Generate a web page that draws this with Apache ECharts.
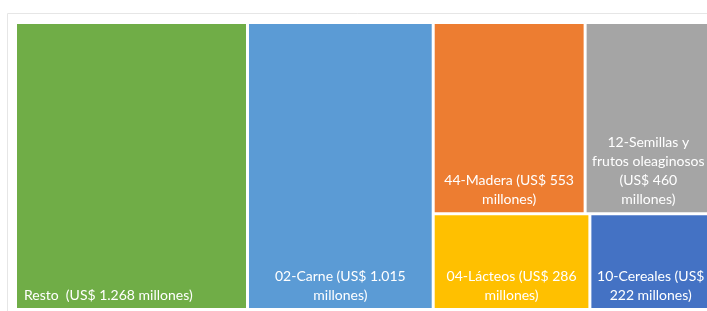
<!DOCTYPE html>
<html>
<head>
<meta charset="utf-8">
<script src="https://cdn.jsdelivr.net/npm/echarts@6/dist/echarts.min.js"></script>
<style>
html,body{margin:0;padding:0;background:#fff;}
#chart{width:707px;height:311px;}
</style>
</head>
<body>
<div id="chart"></div>
<script>
const categories = ['Resto', '02-Carne', '44-Madera', '12-Semillas y frutos oleaginosos', '04-Lácteos', '10-Cereales'];
const values = [1268, 1015, 553, 460, 286, 222];
const valueLabels = ['1.268', '1.015', '553', '460', '286', '222'];
const colors = ['#70AD47', '#5B9BD5', '#ED7D31', '#A5A5A5', '#FFC000', '#4472C4'];
const labelLines = [
  ['Resto  (US$ 1.268 millones)'],
  ['02-Carne (US$ 1.015', 'millones)'],
  ['44-Madera (US$ 553', 'millones)'],
  ['12-Semillas y', 'frutos oleaginosos', '(US$ 460', 'millones)'],
  ['04-Lácteos (US$ 286', 'millones)'],
  ['10-Cereales (US$', '222 millones)']
];

const chart = echarts.init(document.getElementById('chart'), null, {renderer: 'canvas'});
const data = categories.map((c, i) => ({
  name: c,
  value: values[i],
  itemStyle: {color: colors[i], borderWidth: 0},
  label: {
    position: i === 0 ? 'insideBottomLeft' : 'insideBottom',
    align: i === 0 ? 'left' : 'center',
    formatter: labelLines[i].join('\n')
  }
}));

chart.setOption({
  backgroundColor: '#fff',
  animation: false,
  graphic: [{
    type: 'rect',
    shape: {x: 7.5, y: 13.5, width: 760, height: 340},
    style: {fill: 'none', stroke: '#e6e6e6', lineWidth: 1},
    silent: true,
    z: -10
  }],
  series: [{
    type: 'treemap',
    left: 17, top: 24, width: 693, height: 284,
    roam: false,
    nodeClick: false,
    breadcrumb: {show: false},
    sort: 'desc',
    squareRatio: 1,
    emphasis: {disabled: true},
    levels: [{itemStyle: {gapWidth: 3, borderWidth: 0, borderColor: '#fff'}}],
    label: {
      show: true,
      color: '#fff',
      fontFamily: 'Lato',
      fontSize: 14,
      lineHeight: 19,
      overflow: 'none',
      distance: 3,
      padding: [0, 4, 0, 4]
    },
    upperLabel: {show: false},
    data: data
  }]
});
</script>
</body>
</html>
